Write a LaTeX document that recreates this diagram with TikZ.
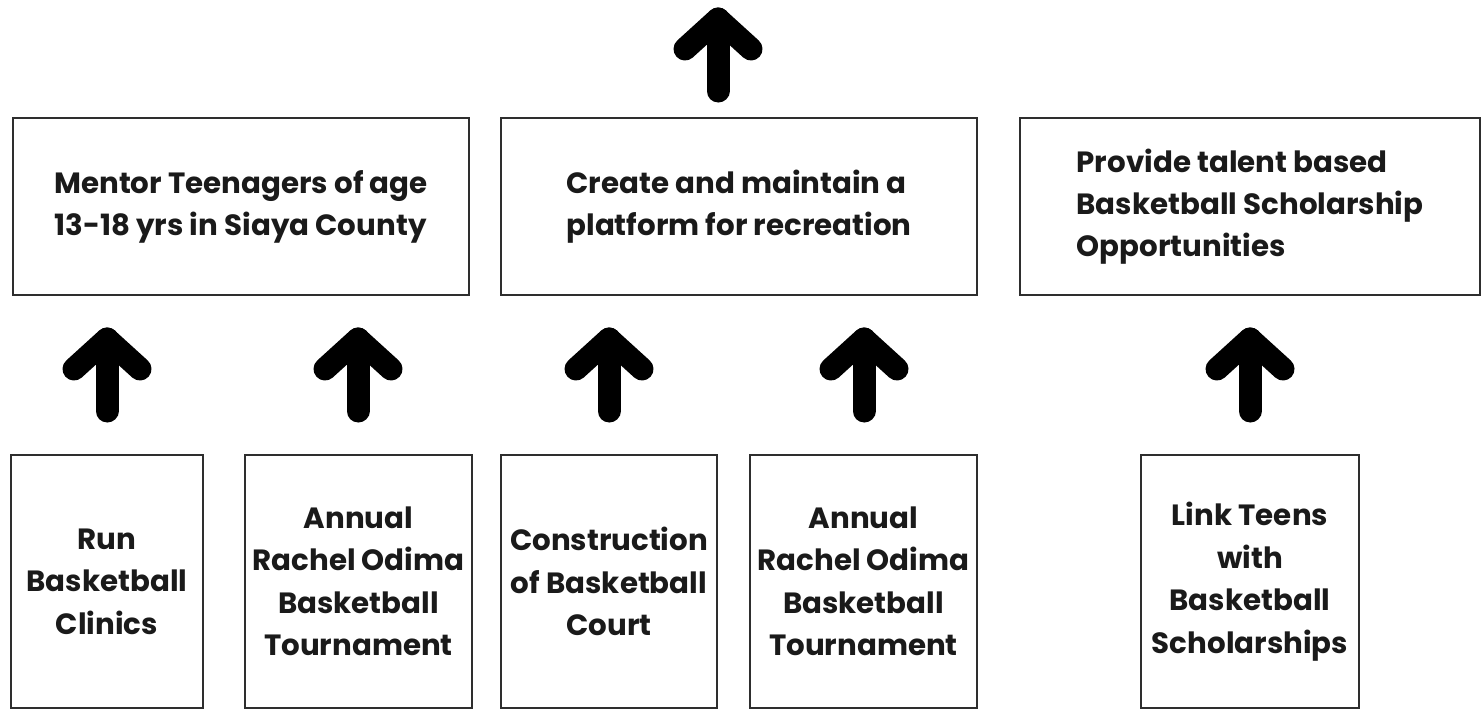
\documentclass[tikz,border=0pt]{standalone}
\usepackage{fontspec}
\setmainfont{Poppins}
\definecolor{txt}{HTML}{1A1A1A}
\definecolor{frame}{HTML}{2E2E2E}
\begin{document}
\begin{tikzpicture}[x=1pt,y=-1pt,
  goalbox/.style={draw=frame,line width=2.5pt,rectangle,inner sep=0pt,text=txt,
    font=\fontsize{29.3}{42}\selectfont\bfseries,align=left},
  actbox/.style={draw=frame,line width=2.5pt,rectangle,inner sep=0pt,text=txt,
    font=\fontsize{29.3}{42.5}\selectfont\bfseries,align=center},
  bigarrow/.style={line width=23pt,line cap=round,line join=round,black}]
\useasboundingbox (0,0) rectangle (1482,710);
% goal boxes
\node[goalbox,minimum width=456pt,minimum height=177pt] (g1) at (241,206.5) {Mentor Teenagers of age\\13-18 yrs in Siaya County};
\node[goalbox,minimum width=476pt,minimum height=177pt] (g2) at (739,206.5) {Create and maintain a\\platform for recreation};
\node[goalbox,minimum width=460pt,minimum height=177pt] (g3) at (1250,206.5) {Provide talent based\\Basketball Scholarship\\Opportunities};
% activity boxes
\node[actbox,minimum width=192pt,minimum height=253pt] (a1) at (107,581.5) {Run\\Basketball\\Clinics};
\node[actbox,minimum width=227pt,minimum height=253pt] (a2) at (358.5,581.5) {Annual\\Rachel Odima\\Basketball\\Tournament};
\node[actbox,minimum width=216pt,minimum height=253pt] (a3) at (609,581.5) {Construction\\of Basketball\\Court};
\node[actbox,minimum width=227pt,minimum height=253pt] (a4) at (863.5,581.5) {Annual\\Rachel Odima\\Basketball\\Tournament};
\node[actbox,minimum width=218pt,minimum height=253pt] (a5) at (1250,581.5) {Link Teens\\with\\Basketball\\Scholarships};
% arrows
\foreach \n/\x/\t/\b in {top/718/19/91, r1/107/339/411, r2/358/339/411, r3/609/339/411, r4/864/339/411, r5/1250/339/411}{
  \coordinate (\n tip) at (\x,\t);
  \coordinate (\n base) at (\x,\b);
  \coordinate (\n l) at (\x-33,\t+30);
  \coordinate (\n r) at (\x+33,\t+30);
  \draw[bigarrow] (\n base) -- (\n tip);
  \draw[bigarrow] (\n l) -- (\n tip) -- (\n r);
}
\end{tikzpicture}
\end{document}
